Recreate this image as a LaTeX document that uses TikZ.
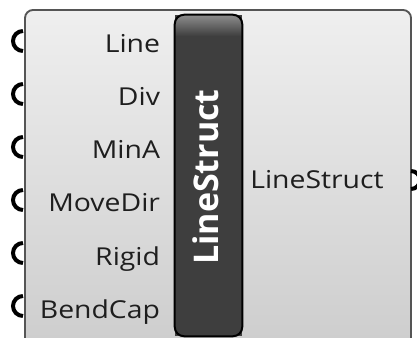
\documentclass[tikz,border=0pt]{standalone}
\usepackage{fontspec}
\setmainfont{Open Sans}
\definecolor{boxtop}{HTML}{EFEFEF}
\definecolor{boxbot}{HTML}{CDCDCD}
\definecolor{boxborder}{HTML}{555555}
\definecolor{bardark}{HTML}{3E3E3E}
\definecolor{barhi}{HTML}{8E8E8E}
\definecolor{labeltext}{HTML}{1E1E1E}
\begin{document}
\begin{tikzpicture}[x=0.75pt,y=-0.75pt,
  comp/.style={draw=boxborder, line width=1.4pt, rounded corners=6pt,
    top color=boxtop, bottom color=boxbot,
    minimum width=289.5pt, minimum height=255pt, inner sep=0pt},
  barbox/.style={fill=bardark, minimum width=50.25pt, minimum height=240.75pt,
    inner sep=0pt},
  inlabel/.style={anchor=base east, font=\fontsize{18.5}{21}\selectfont,
    text=labeltext, inner sep=0pt, xscale=1.15},
  outlabel/.style={anchor=base west, font=\fontsize{18.5}{21}\selectfont,
    text=labeltext, inner sep=0pt, xscale=1.15},
  grip/.style={line width=3pt, draw=black}]
\useasboundingbox (0,0) rectangle (417,338);
\clip (0,0) rectangle (417,338);
\fill[white] (0,0) rectangle (417,338);
% component body
\node[comp] (comp) at (218,180) {};
% central bar
\node[barbox] (bar) at (208.5,175.5) {};
\begin{scope}
  \clip[rounded corners=7pt] (bar.south west) rectangle (bar.north east);
  \shade[top color=barhi, bottom color=bardark] (bar.north west) rectangle ([yshift=-16pt]bar.north east);
\end{scope}
\draw[black, line width=1.5pt, rounded corners=7pt] (bar.south west) rectangle (bar.north east);
\node[text=white, font=\fontsize{25.5}{28}\selectfont\bfseries, rotate=90, inner sep=0pt] (bartext) at (206,177) {LineStruct};
% input grips
\coordinate (g1) at (23,41);
\coordinate (g2) at (23,94);
\coordinate (g3) at (23,147);
\coordinate (g4) at (23,200);
\coordinate (g5) at (23,253);
\coordinate (g6) at (23,306);
\foreach \g in {g1,g2,g3,g4,g5,g6}{
  \draw[grip] (\g) ++(0,10) arc[start angle=90, end angle=270, radius=10];
}
% output grip
\coordinate (go) at (411,180);
\draw[grip] (go) ++(0,-9) arc[start angle=-90, end angle=90, radius=9];
% input labels
\node[inlabel] (lLine) at ([xshift=103pt,yshift=-9pt]g1) {Line};
\node[inlabel] (lDiv) at ([xshift=103pt,yshift=-9pt]g2) {Div};
\node[inlabel] (lMinA) at ([xshift=103pt,yshift=-9pt]g3) {MinA};
\node[inlabel] (lMove) at ([xshift=103pt,yshift=-9pt]g4) {MoveDir};
\node[inlabel] (lRigid) at ([xshift=103pt,yshift=-9pt]g5) {Rigid};
\node[inlabel] (lBend) at ([xshift=103pt,yshift=-9pt]g6) {BendCap};
% output label
\node[outlabel] (lOut) at (250,189) {LineStruct};
\end{tikzpicture}
\end{document}
